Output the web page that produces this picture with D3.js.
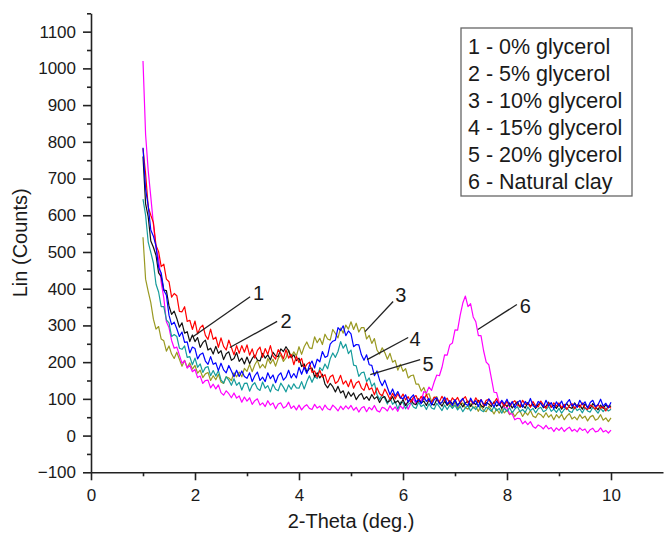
<!DOCTYPE html>
<html>
<head>
<meta charset="utf-8">
<script src="https://cdn.jsdelivr.net/npm/d3@7"></script>
<style>
body { margin: 0; background: #fff; }
text { font-family: "Liberation Sans", Arial, sans-serif; fill: #1a1a1a; }
</style>
</head>
<body>
<div id="chart"></div>
<script>
// scan grid of the diffractometer, 1 to 10 deg in 0.05 deg steps
const twoTheta = d3.range(181).map(function(i){ return +(1 + i * 0.05).toFixed(2); });

// intensities (Lin counts), one value per grid point
const glycerol0 = [
760,631,596,530,513,491,443,433,396,395,353,330,339,319,295,307,279,283,256,274,
256,267,240,253,260,233,238,222,243,224,231,207,223,228,205,210,226,202,211,195,
214,196,210,219,206,203,224,211,220,206,227,217,215,236,229,242,231,212,220,204,
211,188,195,173,182,184,160,171,157,167,140,130,142,133,119,134,116,122,102,119,
107,116,98,109,115,99,106,96,112,100,106,90,103,106,91,95,106,89,95,84,
98,82,93,99,87,84,100,89,94,82,98,86,83,99,90,80,94,83,95,86,
96,83,91,78,89,94,79,91,84,96,82,77,90,86,79,92,80,87,74,88,
79,89,75,85,92,77,83,75,90,80,86,74,85,88,76,80,91,77,83,74,
85,72,82,87,77,74,89,78,83,72,86,77,74,87,79,70,83,74,84,76,81];

const glycerol5 = [
782,713,623,600,580,518,501,460,467,426,419,377,387,381,338,337,351,311,314,289,
312,277,294,301,273,262,290,262,268,240,266,243,233,260,240,220,245,224,245,227,
247,219,236,211,232,241,213,237,221,245,217,208,234,224,209,234,211,221,193,216,
199,210,182,194,200,172,176,159,178,159,166,143,160,165,142,148,164,140,149,133,
153,129,143,148,130,123,144,125,130,111,130,114,108,127,113,98,115,100,114,101,
113,97,106,91,104,109,93,107,97,112,95,91,105,100,92,107,94,102,87,103,
94,104,88,99,106,89,96,86,103,91,98,82,96,99,85,89,101,84,91,80,
94,78,89,95,83,79,96,85,89,77,93,81,78,94,84,74,89,77,89,80,
89,76,85,71,82,87,73,84,77,89,75,71,83,79,72,85,74,80,67,81,74];

const glycerol10 = [
540,426,393,362,317,290,297,263,258,230,244,222,210,227,208,189,205,185,198,181,
191,170,178,158,168,172,150,163,152,167,146,142,160,157,150,171,160,173,160,183,
175,194,174,193,205,184,194,184,210,196,208,189,210,220,202,212,233,214,228,217,
242,221,242,255,239,237,269,253,265,248,276,263,260,289,278,266,293,279,301,290,
310,289,306,282,294,294,263,273,251,264,233,222,239,226,208,224,200,205,178,194,
175,182,157,163,165,140,140,121,131,112,114,92,103,106,87,90,103,82,89,76,
91,74,84,89,76,72,87,75,79,66,81,69,65,80,70,59,73,61,72,62,
70,57,65,52,62,67,52,64,56,68,53,49,61,57,49,62,50,57,43,57,
48,58,43,53,60,45,51,43,57,47,53,40,51,55,42,46,57,42,48,38,48];

const glycerol15 = [
784,671,626,560,543,516,458,443,396,382,328,302,309,291,270,282,254,255,225,241,
237,209,221,225,203,194,215,194,198,177,197,179,171,191,176,160,178,161,176,161,
156,171,147,163,173,150,159,147,171,155,165,144,163,171,151,159,178,157,169,157,
186,167,186,169,191,203,184,208,201,229,213,217,249,257,260,294,286,299,272,285,
277,242,248,247,220,205,220,193,191,163,176,151,136,151,131,111,127,107,120,104,
100,111,91,103,111,92,98,87,106,93,101,83,98,103,86,91,105,86,94,82,
98,80,93,101,86,82,102,88,95,79,98,86,82,100,90,78,94,82,96,86,
99,81,93,76,89,96,77,93,84,101,81,77,93,88,78,96,81,90,73,92,
81,94,76,89,98,80,87,77,96,84,92,75,90,96,79,84,99,80,88,76,91];

const glycerol20 = [
644,600,527,499,470,412,391,351,351,315,307,270,275,270,238,235,244,213,215,193,
211,186,195,172,185,188,163,177,162,177,152,143,160,151,137,155,137,145,124,142,
143,121,137,144,128,123,146,129,136,119,140,126,122,143,132,119,138,126,141,130,
129,147,127,147,163,145,161,155,185,177,195,182,209,225,213,229,256,238,249,223,
233,192,190,161,171,173,147,157,134,143,112,98,112,101,86,103,85,93,72,91,
90,73,85,90,78,74,91,79,84,71,87,75,72,88,78,68,83,71,83,74,
83,70,79,65,76,81,67,78,71,83,69,65,77,73,66,79,68,74,61,75,
66,76,62,72,79,65,71,63,78,68,74,62,73,77,65,69,80,66,72,63,
74,61,71,76,66,63,78,68,73,62,76,67,64,77,70,61,74,65,75,67,72];

const naturalClay = [
1020,820,722,650,576,512,482,418,375,310,294,259,238,241,219,197,204,184,191,174,
180,158,162,142,150,151,130,140,127,138,117,110,122,114,103,116,102,108,91,105,
94,103,85,95,100,83,89,79,95,83,89,73,86,89,75,79,91,74,81,70,
83,70,79,84,74,71,85,75,80,69,83,73,70,83,76,67,80,71,81,73,
82,69,77,64,75,79,65,77,70,82,68,64,77,74,67,81,70,78,66,81,
73,88,72,88,100,86,98,94,120,116,132,123,146,165,163,186,220,219,247,252,
288,287,328,361,380,351,359,323,310,272,272,231,200,193,156,118,117,89,94,74,
77,59,59,43,47,46,32,39,30,38,25,20,29,25,18,28,18,22,11,21,
14,22,11,18,23,12,17,10,21,14,18,7,16,20,10,12,21,10,14,7,15];

const legendLabels = ["1 - 0% glycerol", "2 - 5% glycerol", "3 - 10% glycerol",
                      "4 - 15% glycerol", "5 - 20% glycerol", "6 - Natural clay"];
const xTicks = [0, 2, 4, 6, 8, 10];
const xMinorTicks = [1, 3, 5, 7, 9];
const yTicks = [-100, 0, 100, 200, 300, 400, 500, 600, 700, 800, 900, 1000, 1100];
const yMinorTicks = [-50, 50, 150, 250, 350, 450, 550, 650, 750, 850, 950, 1050, 1150];

// numbered callouts: [label, curve x, curve y, line end x, line end y, text x, text y]
const callouts = [
    ["1", 1.96, 269, 3.06, 378, 3.22, 387],
    ["2", 2.67, 240, 3.58, 311, 3.75, 311],
    ["3", 5.27, 283, 5.81, 365, 5.96, 383],
    ["4", 5.31, 207, 6.10, 267, 6.23, 262],
    ["5", 5.37, 166, 6.33, 207, 6.48, 194],
    ["6", 7.44, 289, 8.19, 357, 8.35, 352]
];

const colors = ["#111111", "#ff0000", "#999922", "#0000ff", "#169c9c", "#ff00ff"];
const series = [glycerol0, glycerol5, glycerol10, glycerol15, glycerol20, naturalClay];
const drawOrder = [2, 5, 4, 0, 1, 3];

const W = 665, H = 541;
const x = d3.scaleLinear().domain([0, 11]).range([91, 663]);
const y = d3.scaleLinear().domain([-100, 1150]).range([472.3, 13.3]);

const svg = d3.select("#chart").append("svg")
    .attr("width", W)
    .attr("height", H);

// curves
const line = d3.line()
    .x(function(d, i){ return x(twoTheta[i]); })
    .y(function(d){ return y(d); });

svg.append("g")
    .attr("class", "curves")
    .selectAll("path")
    .data(drawOrder)
    .enter()
    .append("path")
    .attr("d", function(k){ return line(series[k]); })
    .attr("fill", "none")
    .attr("stroke", function(k){ return colors[k]; })
    .attr("stroke-width", 1.2)
    .attr("stroke-linejoin", "round");

// axes
function styleAxis(g){
    g.selectAll("path, line").attr("stroke", "#222").attr("stroke-width", 1.6);
    g.selectAll("text").attr("font-size", 17).attr("fill", "#1a1a1a")
        .attr("font-family", "'Liberation Sans', Arial, sans-serif");
}

svg.append("g")
    .attr("transform", "translate(0," + y(-100) + ")")
    .call(d3.axisBottom(x).tickValues(xTicks).tickSize(8).tickSizeOuter(0).tickPadding(9)
        .tickFormat(d3.format("d")))
    .call(styleAxis);

svg.append("g")
    .attr("transform", "translate(0," + y(-100) + ")")
    .call(d3.axisBottom(x).tickValues(xMinorTicks).tickSize(4).tickSizeOuter(0).tickFormat(""))
    .call(styleAxis)
    .select(".domain").remove();

svg.append("g")
    .attr("transform", "translate(" + x(0) + ",0)")
    .call(d3.axisLeft(y).tickValues(yTicks).tickSize(8).tickSizeOuter(0).tickPadding(7)
        .tickFormat(d3.format("d")))
    .call(styleAxis);

svg.append("g")
    .attr("transform", "translate(" + x(0) + ",0)")
    .call(d3.axisLeft(y).tickValues(yMinorTicks).tickSize(4).tickSizeOuter(0).tickFormat(""))
    .call(styleAxis)
    .select(".domain").remove();

// axis titles
svg.append("text")
    .attr("x", x(5))
    .attr("y", 521)
    .attr("text-anchor", "middle")
    .attr("dominant-baseline", "central")
    .attr("font-size", 20)
    .text("2-Theta (deg.)");

svg.append("text")
    .attr("transform", "translate(20," + y(525) + ") rotate(-90)")
    .attr("text-anchor", "middle")
    .attr("dominant-baseline", "central")
    .attr("font-size", 20)
    .text("Lin (Counts)");

// callouts
const co = svg.append("g").attr("class", "callouts")
    .selectAll("g")
    .data(callouts)
    .enter().append("g");

co.append("line")
    .attr("x1", function(d){ return x(d[1]); })
    .attr("y1", function(d){ return y(d[2]); })
    .attr("x2", function(d){ return x(d[3]); })
    .attr("y2", function(d){ return y(d[4]); })
    .attr("stroke", "#222")
    .attr("stroke-width", 1.3);

co.append("text")
    .attr("x", function(d){ return x(d[5]); })
    .attr("y", function(d){ return y(d[6]); })
    .attr("text-anchor", "middle")
    .attr("dominant-baseline", "central")
    .attr("font-size", 20)
    .text(function(d){ return d[0]; });

// legend
const legend = svg.append("g").attr("class", "legend");

legend.append("rect")
    .attr("x", 461)
    .attr("y", 28)
    .attr("width", 171)
    .attr("height", 168)
    .attr("fill", "#fff")
    .attr("stroke", "#666")
    .attr("stroke-width", 1.3);

legend.selectAll("text")
    .data(legendLabels)
    .enter()
    .append("text")
    .attr("x", 468)
    .attr("y", function(d, i){ return 47 + i * 27; })
    .attr("dominant-baseline", "central")
    .attr("font-size", 21.5)
    .text(function(d){ return d; });
</script>
</body>
</html>
